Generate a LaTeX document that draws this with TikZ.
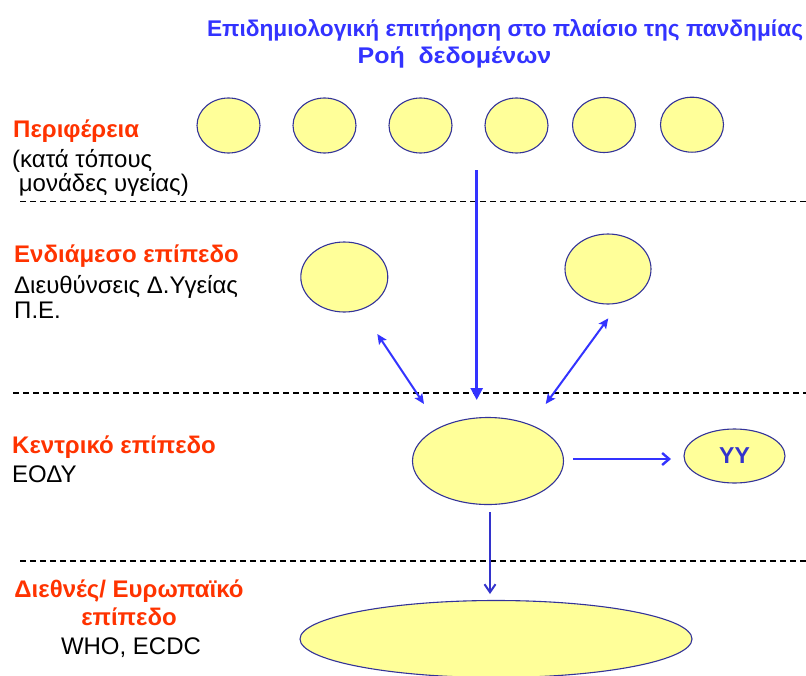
\documentclass[tikz,border=0pt]{standalone}
\usepackage{fontspec}
\setmainfont{Liberation Sans}
\usetikzlibrary{shapes.geometric,arrows.meta}
\definecolor{ttlblue}{HTML}{3333FF}
\definecolor{lblred}{HTML}{FF3300}
\definecolor{ellfill}{HTML}{FFFF99}
\definecolor{elledge}{HTML}{333399}
\definecolor{arrblue}{HTML}{3333FF}
\definecolor{darkblue}{HTML}{3333CC}
\tikzset{
  blob/.style={ellipse, draw=elledge, fill=ellfill, line width=1.1pt, inner sep=0pt},
  toprow/.style={blob, minimum width=63pt, minimum height=55pt},
  sep line/.style={draw=black, line width=1.1pt, dash pattern=on 6pt off 4pt},
  ttl/.style={text=ttlblue, font=\fontsize{22.7}{26}\selectfont\bfseries, inner sep=0pt, anchor=base},
  redlbl/.style={text=lblred, font=\fontsize{24}{28}\selectfont\bfseries, inner sep=0pt, anchor=base west},
  blklbl/.style={text=black, font=\fontsize{24}{28}\selectfont, inner sep=0pt, anchor=base west},
  mainarrow/.style={draw=arrblue, line width=2.6pt, -{Triangle[width=12pt,length=12pt]}},
  dblarrow/.style={draw=arrblue, line width=2pt, {Stealth[width=9pt,length=10pt,inset=2pt]}-{Stealth[width=9pt,length=10pt,inset=2pt]}},
  openarrow/.style={draw=arrblue, line width=2.4pt, -{Straight Barb[width=12pt,length=7pt]}},
  downarrow/.style={draw=darkblue, line width=2pt, -{Straight Barb[width=11pt,length=8pt]}}
}
\begin{document}
\begin{tikzpicture}[x=1pt,y=-1pt]
\useasboundingbox (0,0) rectangle (806,675);
% title
\node[ttl] (t1) at (505,36) {Επιδημιολογική επιτήρηση στο πλαίσιο της πανδημίας};
\node[ttl] (t2) at (454.5,63.3) {\scalebox{1.1}[1]{Ροή\hspace{0.55em}δεδομένων}};
% separators
\coordinate (s1a) at (20,201.5); \coordinate (s1b) at (806,201.5);
\coordinate (s2a) at (13,393); \coordinate (s2b) at (806,393);
\coordinate (s3a) at (20,561); \coordinate (s3b) at (806,561);
\draw[sep line] (s1a) -- (s1b);
\draw[sep line] (s2a) -- (s2b);
\draw[sep line] (s3a) -- (s3b);
% left labels
\node[redlbl] (l1) at (13,137) {Περιφέρεια};
\node[blklbl] (l2) at (12,167.5) {(κατά τόπους};
\node[blklbl] (l3) at (12,191) {\ μονάδες υγείας)};
\node[redlbl] (l4) at (14,262) {Ενδιάμεσο επίπεδο};
\node[blklbl] (l5) at (14,293) {Διευθύνσεις Δ.Υγείας};
\node[blklbl] (l6) at (14,318) {Π.Ε.};
\node[redlbl] (l7) at (12,453) {Κεντρικό επίπεδο};
\node[blklbl] (l8) at (12,482) {ΕΟΔΥ};
\node[redlbl, anchor=base] (l9) at (129,597.5) {Διεθνές/ Ευρωπαϊκό};
\node[redlbl, anchor=base] (l10) at (129,625) {επίπεδο};
\node[blklbl, anchor=base] (l11) at (131,654) {WHO, ECDC};
% top row
\node[toprow] (p1) at (228.5,125.5) {};
\node[toprow] (p2) at (324.5,125.5) {};
\node[toprow] (p3) at (420.5,125.5) {};
\node[toprow] (p4) at (516.5,125.5) {};
\node[toprow] (p5) at (604,125) {};
\node[toprow] (p6) at (692,124.7) {};
% intermediate
\node[blob, minimum width=87pt, minimum height=70pt] (m1) at (344.3,277) {};
\node[blob, minimum width=86pt, minimum height=70pt] (m2) at (608,269) {};
% central
\node[blob, minimum width=151pt, minimum height=87pt] (c) at (488,461) {};
\node[blob, minimum width=101pt, minimum height=54pt, text=darkblue, font=\fontsize{23}{26}\selectfont\bfseries] (yy) at (734.5,456) {YY};
% international
\node[blob, minimum width=392pt, minimum height=77pt] (w) at (496,639) {};
% arrows
\coordinate (va) at (476.7,170); \coordinate (vb) at (476.7,400);
\draw[mainarrow] (va) -- (vb);
\coordinate (la) at (377.3,334); \coordinate (lb) at (424,404);
\draw[dblarrow] (la) -- (lb);
\coordinate (ra) at (608.3,318.3); \coordinate (rb) at (545.7,404);
\draw[dblarrow] (ra) -- (rb);
\coordinate (ha) at (573.3,459); \coordinate (hb) at (671,459);
\draw[openarrow] (ha) -- (hb);
\coordinate (da) at (490,512); \coordinate (db) at (490,594);
\draw[downarrow] (da) -- (db);
\end{tikzpicture}
\end{document}
